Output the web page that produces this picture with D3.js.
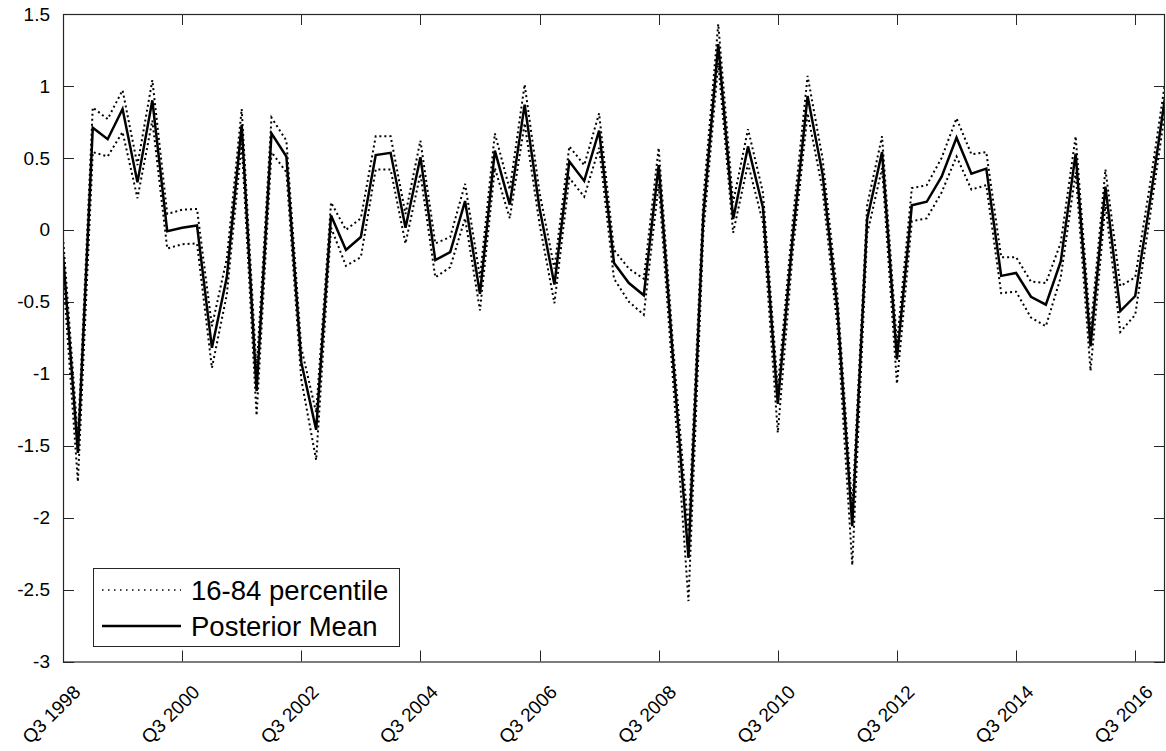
<!DOCTYPE html>
<html>
<head>
<meta charset="utf-8">
<script src="https://cdn.jsdelivr.net/npm/d3@7"></script>
<style>
  html, body { margin: 0; padding: 0; background: #fff; }
  svg { display: block; font-family: "Liberation Sans", Arial, Helvetica, sans-serif; }
</style>
</head>
<body>
<svg id="chart" width="1166" height="751"></svg>
<script>
// Quarterly periods (Q3 1998 ... Q1 2017)
const quarters = [
  "Q3 1998","Q4 1998","Q1 1999","Q2 1999","Q3 1999","Q4 1999","Q1 2000","Q2 2000",
  "Q3 2000","Q4 2000","Q1 2001","Q2 2001","Q3 2001","Q4 2001","Q1 2002","Q2 2002",
  "Q3 2002","Q4 2002","Q1 2003","Q2 2003","Q3 2003","Q4 2003","Q1 2004","Q2 2004",
  "Q3 2004","Q4 2004","Q1 2005","Q2 2005","Q3 2005","Q4 2005","Q1 2006","Q2 2006",
  "Q3 2006","Q4 2006","Q1 2007","Q2 2007","Q3 2007","Q4 2007","Q1 2008","Q2 2008",
  "Q3 2008","Q4 2008","Q1 2009","Q2 2009","Q3 2009","Q4 2009","Q1 2010","Q2 2010",
  "Q3 2010","Q4 2010","Q1 2011","Q2 2011","Q3 2011","Q4 2011","Q1 2012","Q2 2012",
  "Q3 2012","Q4 2012","Q1 2013","Q2 2013","Q3 2013","Q4 2013","Q1 2014","Q2 2014",
  "Q3 2014","Q4 2014","Q1 2015","Q2 2015","Q3 2015","Q4 2015","Q1 2016","Q2 2016",
  "Q3 2016","Q4 2016","Q1 2017"
];

const posteriorMean = [
  -0.17,-1.55, 0.71, 0.63, 0.84, 0.33, 0.90,-0.01, 0.015, 0.03,
  -0.82,-0.33, 0.73,-1.12, 0.67, 0.51,-0.92,-1.39, 0.10,-0.14,
  -0.05, 0.52, 0.535, 0.015, 0.505,-0.21,-0.155, 0.20,-0.445, 0.55,
   0.175, 0.87, 0.15,-0.38, 0.475, 0.34, 0.69,-0.23,-0.37,-0.455,
   0.45,-0.95,-2.28, 0.10, 1.29, 0.075, 0.58, 0.155,-1.21,-0.05,
   0.93, 0.39,-0.55,-2.06, 0.075, 0.54,-0.90, 0.17, 0.195, 0.37,
   0.64, 0.39, 0.425,-0.32,-0.30,-0.465,-0.52,-0.22, 0.53,-0.81,
   0.30,-0.565,-0.46, 0.20, 0.92
];

const upper84 = [
  -0.05,-1.45, 0.85, 0.77, 0.97, 0.45, 1.04, 0.11, 0.14, 0.145,
  -0.67,-0.20, 0.84,-0.98, 0.78, 0.62,-0.82,-1.27, 0.19, 0.00,
   0.08, 0.65, 0.65, 0.11, 0.62,-0.095,-0.05, 0.32,-0.33, 0.67,
   0.28, 1.01, 0.26,-0.27, 0.58, 0.45, 0.81,-0.14,-0.27,-0.34,
   0.57,-0.85,-2.10, 0.22, 1.43, 0.19, 0.70, 0.26,-1.10, 0.06,
   1.07, 0.50,-0.45,-1.94, 0.17, 0.65,-0.79, 0.29, 0.31, 0.50,
   0.775, 0.525, 0.54,-0.19,-0.19,-0.36,-0.37,-0.09, 0.65,-0.70,
   0.42,-0.39,-0.33, 0.32, 1.02
];

const lower16 = [
  -0.30,-1.75, 0.54, 0.51, 0.68, 0.22, 0.76,-0.13,-0.10,-0.095,
  -0.96,-0.45, 0.60,-1.29, 0.54, 0.40,-1.04,-1.60, 0.015,-0.25,
  -0.19, 0.42, 0.42,-0.095, 0.39,-0.33,-0.26, 0.08,-0.56, 0.43,
   0.08, 0.74, 0.04,-0.51, 0.36, 0.23, 0.57,-0.34,-0.50,-0.59,
   0.32,-1.10,-2.58,-0.02, 1.16,-0.02, 0.46, 0.05,-1.41,-0.16,
   0.81, 0.28,-0.67,-2.33,-0.03, 0.43,-1.07, 0.06, 0.08, 0.26,
   0.51, 0.28, 0.31,-0.44,-0.43,-0.61,-0.67,-0.33, 0.40,-0.98,
   0.18,-0.71,-0.59, 0.10, 0.82
];

const xTickLabels = ["Q3 1998","Q3 2000","Q3 2002","Q3 2004","Q3 2006","Q3 2008","Q3 2010","Q3 2012","Q3 2014","Q3 2016"];
const yTicks = [-3, -2.5, -2, -1.5, -1, -0.5, 0, 0.5, 1, 1.5];
const legendLabels = ["16-84 percentile", "Posterior Mean"];

const svg = d3.select("#chart");
const margin = { left: 63, right: 1, top: 14, bottom: 89.5 };
const W = 1166, H = 751;
const x0 = margin.left, x1 = W - margin.right, y0 = margin.top, y1 = H - margin.bottom;
const axisColor = "#262626";

const x = d3.scaleLinear().domain([0, quarters.length - 1]).range([x0, x1]);
const y = d3.scaleLinear().domain([-3, 1.5]).range([y1, y0]);

svg.append("rect").attr("x", 0).attr("y", 0).attr("width", W).attr("height", H).attr("fill", "#fff");

svg.append("defs").append("clipPath").attr("id", "plotclip")
  .append("rect").attr("x", x0).attr("y", y0).attr("width", x1 - x0).attr("height", y1 - y0);

const xTickIdx = xTickLabels.map(l => quarters.indexOf(l));

// ticks (inward, mirrored)
const tickLen = 11;
const gT = svg.append("g").attr("stroke", axisColor).attr("stroke-width", 1);
xTickIdx.forEach(i => {
  const xx = Math.round(x(i)) + 0.5;
  gT.append("line").attr("x1", xx).attr("x2", xx).attr("y1", y1).attr("y2", y1 - tickLen);
  gT.append("line").attr("x1", xx).attr("x2", xx).attr("y1", y0).attr("y2", y0 + tickLen);
});
yTicks.forEach(v => {
  const yy = Math.round(y(v)) + 0.5;
  gT.append("line").attr("x1", x0).attr("x2", x0 + tickLen).attr("y1", yy).attr("y2", yy);
  gT.append("line").attr("x1", x1).attr("x2", x1 - tickLen).attr("y1", yy).attr("y2", yy);
});

// y tick labels (ASCII hyphen for negatives)
svg.append("g").selectAll("text").data(yTicks).join("text")
  .attr("x", x0 - 13).attr("y", d => y(d)).attr("dy", "0.35em")
  .attr("text-anchor", "end").attr("font-size", 19).attr("fill", "#000")
  .text(d => String(d));

// x tick labels rotated
svg.append("g").selectAll("text").data(xTickIdx).join("text")
  .attr("transform", d => `translate(${x(d) + 14},${y1 + 27}) rotate(-45)`)
  .attr("dy", "0.35em")
  .attr("text-anchor", "end").attr("font-size", 19).attr("fill", "#000")
  .text(d => quarters[d]);

// lines
const line = d3.line().x((d, i) => x(i)).y(d => y(d));
const gL = svg.append("g").attr("clip-path", "url(#plotclip)");
gL.append("path").datum(upper84).attr("d", line).attr("fill", "none")
  .attr("stroke", "#000").attr("stroke-width", 2).attr("stroke-dasharray", "2,3");
gL.append("path").datum(lower16).attr("d", line).attr("fill", "none")
  .attr("stroke", "#000").attr("stroke-width", 2).attr("stroke-dasharray", "2,3");
gL.append("path").datum(posteriorMean).attr("d", line).attr("fill", "none")
  .attr("stroke", "#000").attr("stroke-width", 2.5).attr("stroke-linejoin", "miter");

// axes box
svg.append("rect").attr("x", x0 + 0.5).attr("y", y0 + 0.5)
  .attr("width", x1 - x0 - 1).attr("height", y1 - y0)
  .attr("fill", "none").attr("stroke", axisColor).attr("stroke-width", 1.2);

// legend
const lg = svg.append("g");
lg.append("rect").attr("x", 93.5).attr("y", 568.5).attr("width", 306).attr("height", 78)
  .attr("fill", "#fff").attr("stroke", axisColor).attr("stroke-width", 1);
const legendStyles = [
  { dash: "1.5,4.5", width: 1.5 },
  { dash: null, width: 2.5 }
];
legendLabels.forEach((lab, k) => {
  const ly = 590 + k * 36;
  const l = lg.append("line").attr("x1", 102).attr("x2", 181).attr("y1", ly).attr("y2", ly)
    .attr("stroke", "#000").attr("stroke-width", legendStyles[k].width);
  if (legendStyles[k].dash) l.attr("stroke-dasharray", legendStyles[k].dash);
  lg.append("text").attr("x", 191).attr("y", ly).attr("dy", "0.36em")
    .attr("font-size", 27.5).attr("fill", "#000").text(lab);
});
</script>
</body>
</html>
